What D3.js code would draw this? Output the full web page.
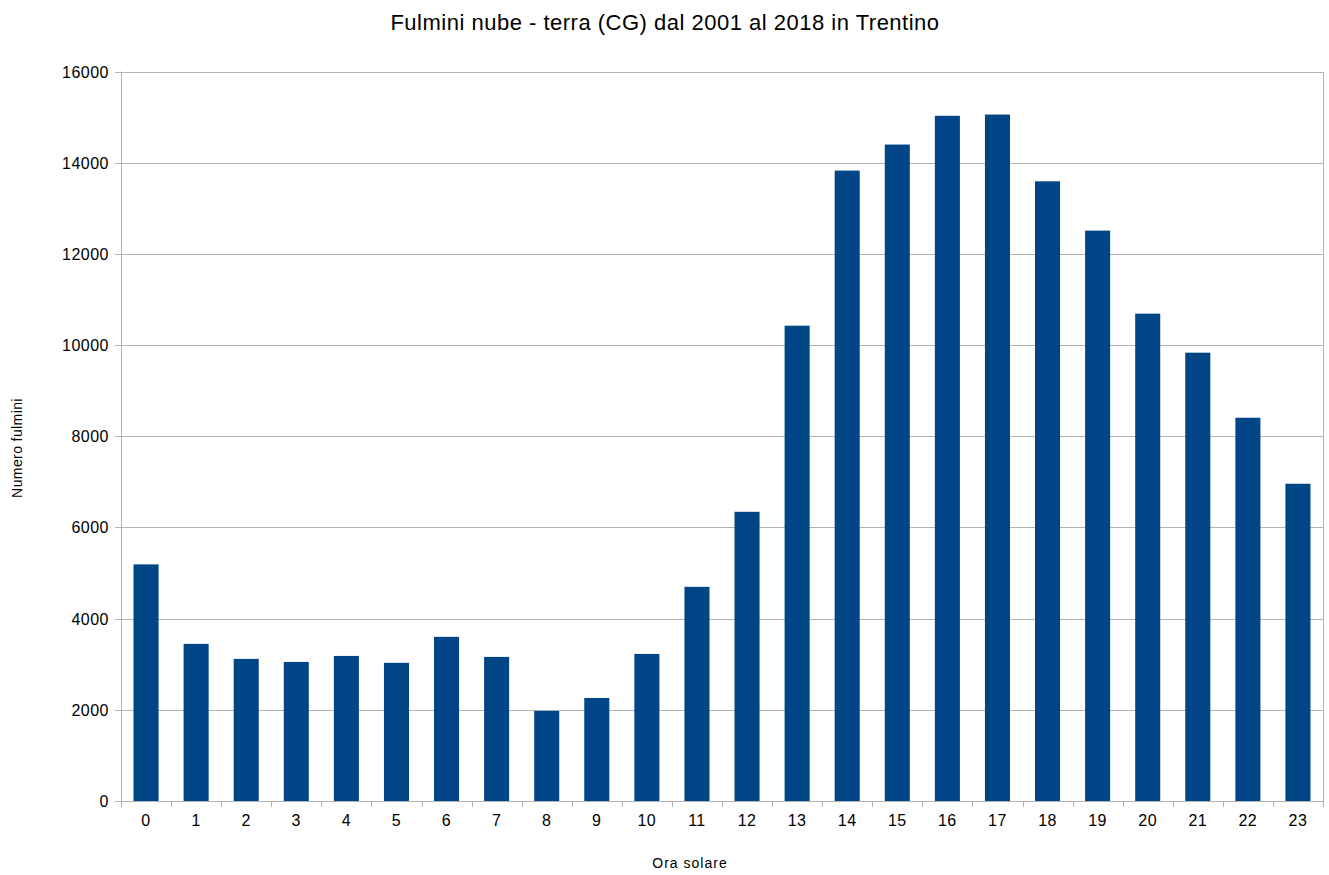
<!DOCTYPE html>
<html>
<head>
<meta charset="utf-8">
<script src="https://cdn.jsdelivr.net/npm/d3@7"></script>
<style>
  body { margin: 0; background: #fff; }
  text { font-family: "Liberation Sans", Arial, sans-serif; }
</style>
</head>
<body>
<svg id="chart" width="1329" height="875"></svg>
<script>
// Hours of the day (solar time)
const hours = ["0","1","2","3","4","5","6","7","8","9","10","11","12","13","14","15","16","17","18","19","20","21","22","23"];
// Cloud-to-ground strikes counted per hour, 2001–2018
const strikes = [5190, 3446, 3117, 3050, 3182, 3030, 3600, 3160, 1975, 2260, 3226, 4697, 6343, 10425, 13827, 14398, 15028, 15056, 13592, 12510, 10689, 9833, 8406, 6958];
const yTicks = [0, 2000, 4000, 6000, 8000, 10000, 12000, 14000, 16000];

const svg = d3.select("#chart");
const margin = { left: 121, right: 6, top: 71.5, bottom: 74 };
const W = 1329, H = 875;
const x0 = margin.left, x1 = W - margin.right;
const y0 = H - margin.bottom, y1 = margin.top;

const x = d3.scaleBand().domain(hours).range([x0, x1]).paddingInner(0.5).paddingOuter(0.25);
const xb = d3.scaleBand().domain(hours).range([x0, x1]);
const y = d3.scaleLinear().domain([0, 16000]).range([y0, y1]);

// Horizontal gridlines
svg.append("g").selectAll("line").data(yTicks.filter(d => d > 0)).join("line")
  .attr("x1", x0 - 6).attr("x2", x1)
  .attr("y1", d => Math.round(y(d)) + 0.5).attr("y2", d => Math.round(y(d)) + 0.5)
  .attr("stroke", "#b3b3b3").attr("stroke-width", 1);

// Bars
svg.append("g").selectAll("rect").data(strikes).join("rect")
  .attr("x", (d, i) => x(hours[i]))
  .attr("width", x.bandwidth())
  .attr("y", d => y(d))
  .attr("height", d => y0 - y(d))
  .attr("fill", "#004586");

// Axis frame lines
svg.append("line").attr("x1", x0 + 0.5).attr("x2", x0 + 0.5).attr("y1", y1).attr("y2", y0 + 6)
  .attr("stroke", "#b3b3b3");
svg.append("line").attr("x1", x0 - 6).attr("x2", x1 + 0.5).attr("y1", Math.round(y0) + 0.5).attr("y2", Math.round(y0) + 0.5)
  .attr("stroke", "#b3b3b3");
svg.append("line").attr("x1", x1 + 0.5).attr("x2", x1 + 0.5).attr("y1", y1).attr("y2", y0 + 6)
  .attr("stroke", "#b3b3b3");

// X axis ticks at category boundaries
svg.append("g").selectAll("line").data(hours.slice(1)).join("line")
  .attr("x1", d => Math.round(xb(d)) + 0.5).attr("x2", d => Math.round(xb(d)) + 0.5)
  .attr("y1", y0).attr("y2", y0 + 6)
  .attr("stroke", "#b3b3b3");

// Y tick labels
svg.append("g").selectAll("text").data(yTicks).join("text")
  .attr("x", x0 - 12).attr("y", d => y(d) + 6)
  .attr("text-anchor", "end").attr("font-size", 16).attr("letter-spacing", 0.5).attr("fill", "#000")
  .text(d => d);

// X tick labels
svg.append("g").selectAll("text").data(hours).join("text")
  .attr("x", d => xb(d) + xb.bandwidth() / 2).attr("y", y0 + 25)
  .attr("text-anchor", "middle").attr("font-size", 16).attr("letter-spacing", 0.5).attr("fill", "#000")
  .text(d => d);

// Title
svg.append("text").attr("x", 665).attr("y", 30).attr("text-anchor", "middle")
  .attr("font-size", 22).attr("letter-spacing", 0.5).text("Fulmini nube - terra (CG) dal 2001 al 2018 in Trentino");

// Axis titles
svg.append("text").attr("x", 690).attr("y", 868).attr("text-anchor", "middle")
  .attr("font-size", 14).attr("letter-spacing", 1).text("Ora solare");
svg.append("text").attr("transform", "translate(22,448) rotate(-90)").attr("text-anchor", "middle")
  .attr("font-size", 14).attr("letter-spacing", 0.4).text("Numero fulmini");
</script>
</body>
</html>
